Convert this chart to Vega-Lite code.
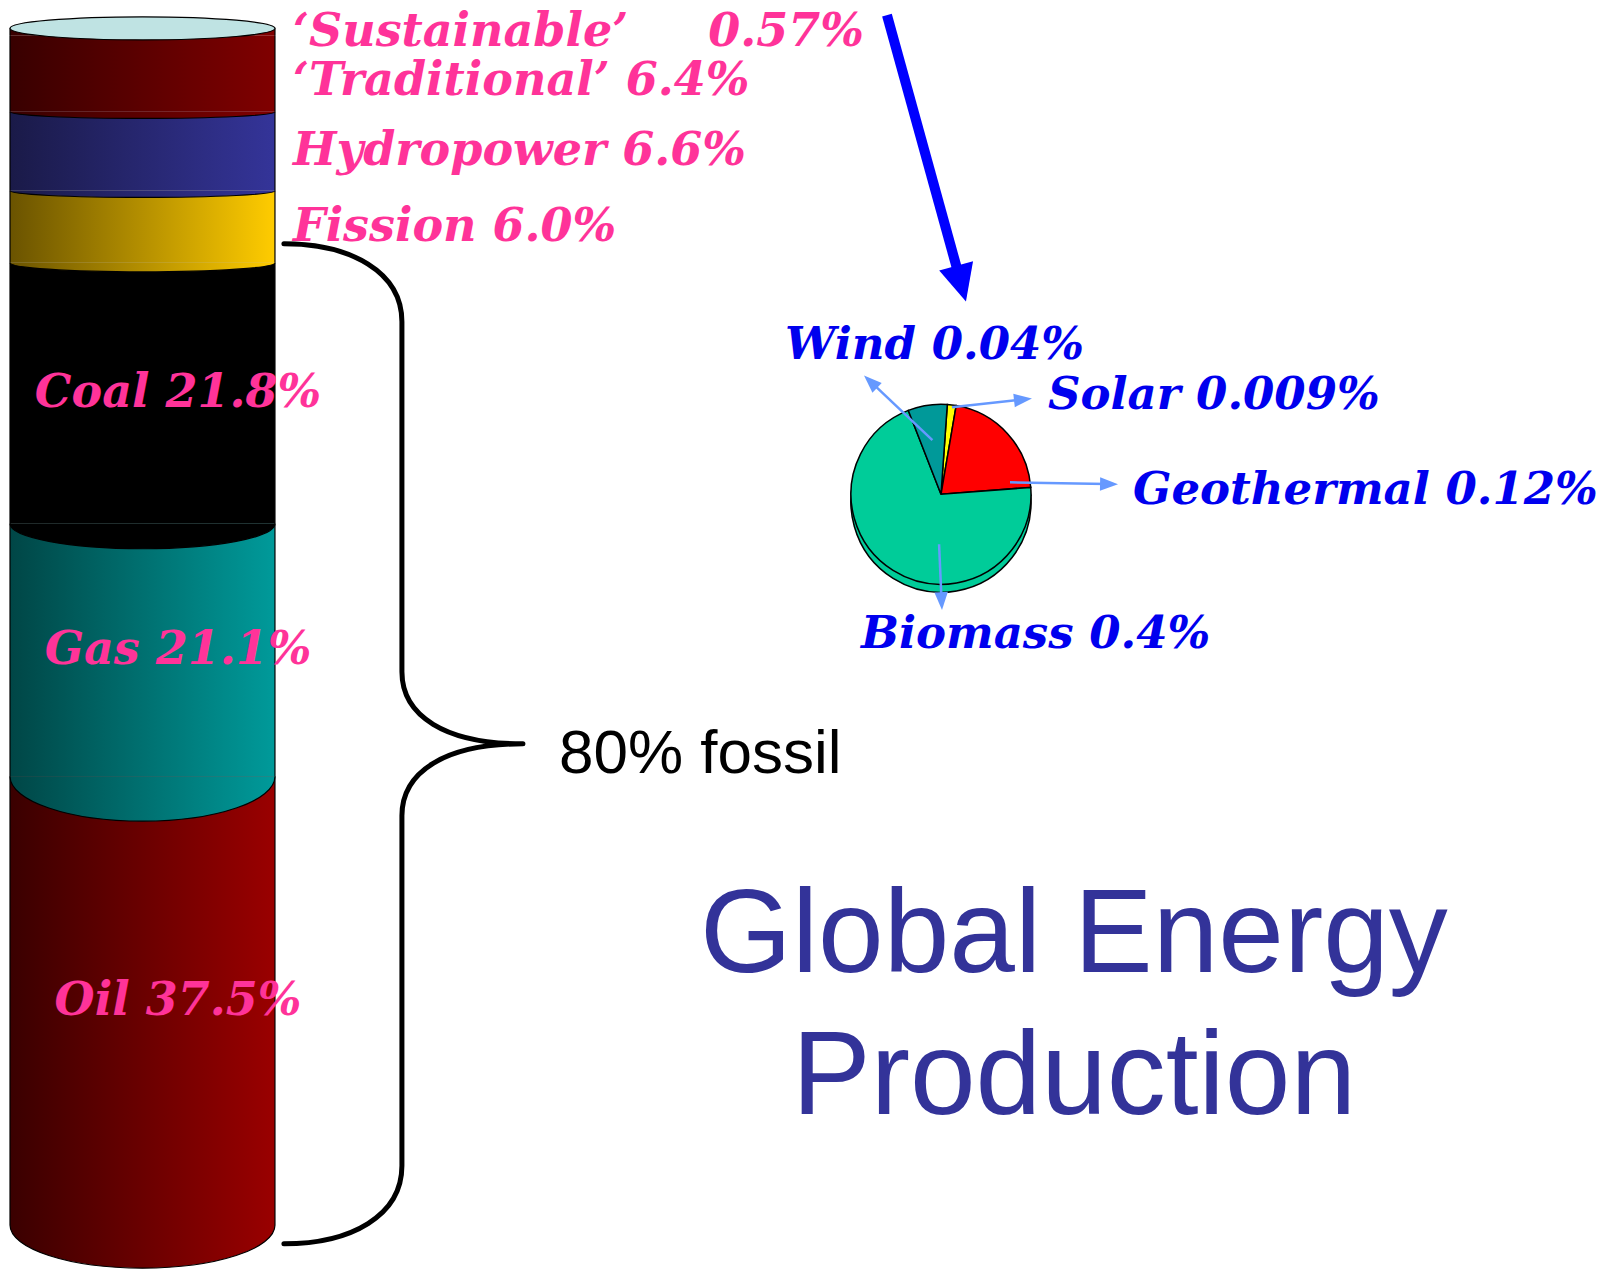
{
  "$schema": "https://vega.github.io/schema/vega-lite/v6.json",
  "width": 1608,
  "height": 1271,
  "padding": 0,
  "autosize": {"type": "fit", "contains": "padding"},
  "background": "white",
  "config": {"view": {"stroke": null}, "axis": {"disable": true}},
  "datasets": {
    "energy": [
      {"source": "Oil", "share": 37.5, "rank": 1, "label": "Oil 37.5%"},
      {"source": "Gas", "share": 21.1, "rank": 2, "label": "Gas 21.1%"},
      {"source": "Coal", "share": 21.8, "rank": 3, "label": "Coal 21.8%"},
      {"source": "Fission", "share": 6.0, "rank": 4, "label": "Fission 6.0%"},
      {"source": "Hydropower", "share": 6.6, "rank": 5, "label": "Hydropower 6.6%"},
      {"source": "Traditional", "share": 6.4, "rank": 6, "label": "‘Traditional’ 6.4%"},
      {"source": "Sustainable", "share": 0.57, "rank": 7, "label": "‘Sustainable’\u00a0\u00a0\u00a0\u00a0 0.57%"}
    ],
    "renewables": [
      {"source": "Solar", "share": 0.009, "rank": 1, "label": "Solar 0.009%"},
      {"source": "Geothermal", "share": 0.12, "rank": 2, "label": "Geothermal 0.12%"},
      {"source": "Biomass", "share": 0.4, "rank": 3, "label": "Biomass 0.4%"},
      {"source": "Wind", "share": 0.04, "rank": 4, "label": "Wind 0.04%"}
    ]
  },
  "layer": [
    {
      "data": {"name": "energy"},
      "transform": [
        {"stack": "share", "groupby": [], "sort": [{"field": "rank", "order": "ascending"}], "as": ["lo", "hi"]},
        {"filter": "datum.source === 'Oil'"}
      ],
      "mark": {"type": "rect", "strokeWidth": 0, "fill": {"gradient": "linear", "x1": 0, "y1": 0, "x2": 1, "y2": 0, "stops": [{"offset": 0, "color": "#3a0000"}, {"offset": 1, "color": "#9a0000"}]}},
      "encoding": {
        "x": {"datum": 0.622, "type": "quantitative", "scale": {"domain": [0, 100], "nice": false, "zero": false}},
        "x2": {"datum": 17.1},
        "y": {"field": "lo", "type": "quantitative", "scale": {"domain": [-3.67, 102.34], "nice": false, "zero": false}},
        "y2": {"field": "hi"}
      }
    },
    {
      "data": {"name": "energy"},
      "transform": [
        {"stack": "share", "groupby": [], "sort": [{"field": "rank", "order": "ascending"}], "as": ["lo", "hi"]},
        {"filter": "datum.source === 'Gas'"}
      ],
      "mark": {"type": "rect", "strokeWidth": 0, "fill": {"gradient": "linear", "x1": 0, "y1": 0, "x2": 1, "y2": 0, "stops": [{"offset": 0, "color": "#004646"}, {"offset": 1, "color": "#009a9a"}]}},
      "encoding": {
        "x": {"datum": 0.622, "type": "quantitative", "scale": {"domain": [0, 100], "nice": false, "zero": false}},
        "x2": {"datum": 17.1},
        "y": {"field": "lo", "type": "quantitative", "scale": {"domain": [-3.67, 102.34], "nice": false, "zero": false}},
        "y2": {"field": "hi"}
      }
    },
    {
      "data": {"name": "energy"},
      "transform": [
        {"stack": "share", "groupby": [], "sort": [{"field": "rank", "order": "ascending"}], "as": ["lo", "hi"]},
        {"filter": "datum.source === 'Coal'"}
      ],
      "mark": {"type": "rect", "strokeWidth": 0, "fill": "#000000"},
      "encoding": {
        "x": {"datum": 0.622, "type": "quantitative", "scale": {"domain": [0, 100], "nice": false, "zero": false}},
        "x2": {"datum": 17.1},
        "y": {"field": "lo", "type": "quantitative", "scale": {"domain": [-3.67, 102.34], "nice": false, "zero": false}},
        "y2": {"field": "hi"}
      }
    },
    {
      "data": {"name": "energy"},
      "transform": [
        {"stack": "share", "groupby": [], "sort": [{"field": "rank", "order": "ascending"}], "as": ["lo", "hi"]},
        {"filter": "datum.source === 'Fission'"}
      ],
      "mark": {"type": "rect", "strokeWidth": 0, "fill": {"gradient": "linear", "x1": 0, "y1": 0, "x2": 1, "y2": 0, "stops": [{"offset": 0, "color": "#6a5300"}, {"offset": 1, "color": "#ffcc00"}]}},
      "encoding": {
        "x": {"datum": 0.622, "type": "quantitative", "scale": {"domain": [0, 100], "nice": false, "zero": false}},
        "x2": {"datum": 17.1},
        "y": {"field": "lo", "type": "quantitative", "scale": {"domain": [-3.67, 102.34], "nice": false, "zero": false}},
        "y2": {"field": "hi"}
      }
    },
    {
      "data": {"name": "energy"},
      "transform": [
        {"stack": "share", "groupby": [], "sort": [{"field": "rank", "order": "ascending"}], "as": ["lo", "hi"]},
        {"filter": "datum.source === 'Hydropower'"}
      ],
      "mark": {"type": "rect", "strokeWidth": 0, "fill": {"gradient": "linear", "x1": 0, "y1": 0, "x2": 1, "y2": 0, "stops": [{"offset": 0, "color": "#1a1a48"}, {"offset": 1, "color": "#343499"}]}},
      "encoding": {
        "x": {"datum": 0.622, "type": "quantitative", "scale": {"domain": [0, 100], "nice": false, "zero": false}},
        "x2": {"datum": 17.1},
        "y": {"field": "lo", "type": "quantitative", "scale": {"domain": [-3.67, 102.34], "nice": false, "zero": false}},
        "y2": {"field": "hi"}
      }
    },
    {
      "data": {"name": "energy"},
      "transform": [
        {"stack": "share", "groupby": [], "sort": [{"field": "rank", "order": "ascending"}], "as": ["lo", "hi"]},
        {"filter": {"field": "source", "oneOf": ["Traditional", "Sustainable"]}}
      ],
      "mark": {"type": "rect", "strokeWidth": 0, "fill": {"gradient": "linear", "x1": 0, "y1": 0, "x2": 1, "y2": 0, "stops": [{"offset": 0, "color": "#380000"}, {"offset": 1, "color": "#800000"}]}},
      "encoding": {
        "x": {"datum": 0.622, "type": "quantitative", "scale": {"domain": [0, 100], "nice": false, "zero": false}},
        "x2": {"datum": 17.1},
        "y": {"field": "lo", "type": "quantitative", "scale": {"domain": [-3.67, 102.34], "nice": false, "zero": false}},
        "y2": {"field": "hi"}
      }
    },
    {
      "data": {"name": "energy"},
      "transform": [
        {"stack": "share", "groupby": [], "sort": [{"field": "rank", "order": "ascending"}], "as": ["lo", "hi"]}
      ],
      "mark": {"type": "rule", "color": "black", "strokeWidth": 1.2},
      "encoding": {
        "x": {"datum": 0.622, "type": "quantitative", "scale": {"domain": [0, 100], "nice": false, "zero": false}},
        "y": {"field": "lo", "type": "quantitative", "scale": {"domain": [-3.67, 102.34], "nice": false, "zero": false}},
        "y2": {"field": "hi"}
      }
    },
    {
      "data": {"name": "energy"},
      "transform": [
        {"stack": "share", "groupby": [], "sort": [{"field": "rank", "order": "ascending"}], "as": ["lo", "hi"]}
      ],
      "mark": {"type": "rule", "color": "black", "strokeWidth": 1.2},
      "encoding": {
        "x": {"datum": 17.1, "type": "quantitative", "scale": {"domain": [0, 100], "nice": false, "zero": false}},
        "y": {"field": "lo", "type": "quantitative", "scale": {"domain": [-3.67, 102.34], "nice": false, "zero": false}},
        "y2": {"field": "hi"}
      }
    },
    {
      "data": {"name": "energy"},
      "transform": [
        {"stack": "share", "groupby": [], "sort": [{"field": "rank", "order": "ascending"}], "as": ["lo", "hi"]},
        {"filter": "datum.source === 'Oil'"}
      ],
      "mark": {"type": "point", "filled": true, "opacity": 1, "size": 70225, "shape": "M-1,0A1,0.325,0,0,0,1,0", "stroke": "black", "strokeWidth": 1.2,
        "fill": {"gradient": "linear", "x1": 0, "y1": 0, "x2": 1, "y2": 0, "stops": [{"offset": 0, "color": "#3a0000"}, {"offset": 1, "color": "#9a0000"}]}},
      "encoding": {
        "x": {"datum": 8.862, "type": "quantitative", "scale": {"domain": [0, 100], "nice": false, "zero": false}},
        "y": {"field": "lo", "type": "quantitative", "scale": {"domain": [-3.67, 102.34], "nice": false, "zero": false}}
      }
    },
    {
      "data": {"name": "energy"},
      "transform": [
        {"stack": "share", "groupby": [], "sort": [{"field": "rank", "order": "ascending"}], "as": ["lo", "hi"]},
        {"filter": "datum.source === 'Gas'"}
      ],
      "mark": {"type": "point", "filled": true, "opacity": 1, "size": 70225, "shape": "M-1,0A1,0.34,0,0,0,1,0", "stroke": "black", "strokeWidth": 1.2,
        "fill": {"gradient": "linear", "x1": 0, "y1": 0, "x2": 1, "y2": 0, "stops": [{"offset": 0, "color": "#004646"}, {"offset": 1, "color": "#009a9a"}]}},
      "encoding": {
        "x": {"datum": 8.862, "type": "quantitative", "scale": {"domain": [0, 100], "nice": false, "zero": false}},
        "y": {"field": "lo", "type": "quantitative", "scale": {"domain": [-3.67, 102.34], "nice": false, "zero": false}}
      }
    },
    {
      "data": {"name": "energy"},
      "transform": [
        {"stack": "share", "groupby": [], "sort": [{"field": "rank", "order": "ascending"}], "as": ["lo", "hi"]},
        {"filter": "datum.source === 'Coal'"}
      ],
      "mark": {"type": "point", "filled": true, "opacity": 1, "size": 70225, "shape": "M-1,0A1,0.19,0,0,0,1,0", "stroke": "black", "strokeWidth": 1.2, "fill": "#000000"},
      "encoding": {
        "x": {"datum": 8.862, "type": "quantitative", "scale": {"domain": [0, 100], "nice": false, "zero": false}},
        "y": {"field": "lo", "type": "quantitative", "scale": {"domain": [-3.67, 102.34], "nice": false, "zero": false}}
      }
    },
    {
      "data": {"name": "energy"},
      "transform": [
        {"stack": "share", "groupby": [], "sort": [{"field": "rank", "order": "ascending"}], "as": ["lo", "hi"]},
        {"filter": "datum.source === 'Fission'"}
      ],
      "mark": {"type": "point", "filled": true, "opacity": 1, "size": 70225, "shape": "M-1,0A1,0.07,0,0,0,1,0", "stroke": "black", "strokeWidth": 1.2,
        "fill": {"gradient": "linear", "x1": 0, "y1": 0, "x2": 1, "y2": 0, "stops": [{"offset": 0, "color": "#6a5300"}, {"offset": 1, "color": "#ffcc00"}]}},
      "encoding": {
        "x": {"datum": 8.862, "type": "quantitative", "scale": {"domain": [0, 100], "nice": false, "zero": false}},
        "y": {"field": "lo", "type": "quantitative", "scale": {"domain": [-3.67, 102.34], "nice": false, "zero": false}}
      }
    },
    {
      "data": {"name": "energy"},
      "transform": [
        {"stack": "share", "groupby": [], "sort": [{"field": "rank", "order": "ascending"}], "as": ["lo", "hi"]},
        {"filter": "datum.source === 'Hydropower'"}
      ],
      "mark": {"type": "point", "filled": true, "opacity": 1, "size": 70225, "shape": "M-1,0A1,0.05,0,0,0,1,0", "stroke": "black", "strokeWidth": 1.2,
        "fill": {"gradient": "linear", "x1": 0, "y1": 0, "x2": 1, "y2": 0, "stops": [{"offset": 0, "color": "#1a1a48"}, {"offset": 1, "color": "#343499"}]}},
      "encoding": {
        "x": {"datum": 8.862, "type": "quantitative", "scale": {"domain": [0, 100], "nice": false, "zero": false}},
        "y": {"field": "lo", "type": "quantitative", "scale": {"domain": [-3.67, 102.34], "nice": false, "zero": false}}
      }
    },
    {
      "data": {"name": "energy"},
      "transform": [
        {"stack": "share", "groupby": [], "sort": [{"field": "rank", "order": "ascending"}], "as": ["lo", "hi"]},
        {"filter": "datum.source === 'Traditional'"}
      ],
      "mark": {"type": "point", "filled": true, "opacity": 1, "size": 70225, "shape": "M-1,0A1,0.05,0,0,0,1,0", "stroke": "black", "strokeWidth": 1.2,
        "fill": {"gradient": "linear", "x1": 0, "y1": 0, "x2": 1, "y2": 0, "stops": [{"offset": 0, "color": "#380000"}, {"offset": 1, "color": "#800000"}]}},
      "encoding": {
        "x": {"datum": 8.862, "type": "quantitative", "scale": {"domain": [0, 100], "nice": false, "zero": false}},
        "y": {"field": "lo", "type": "quantitative", "scale": {"domain": [-3.67, 102.34], "nice": false, "zero": false}}
      }
    },
    {
      "data": {"name": "energy"},
      "transform": [
        {"stack": "share", "groupby": [], "sort": [{"field": "rank", "order": "ascending"}], "as": ["lo", "hi"]},
        {"filter": "datum.source === 'Sustainable'"}
      ],
      "mark": {
        "type": "point", "filled": true, "opacity": 1, "size": 70225,
        "shape": "M-1,0A1,0.087,0,1,1,1,0A1,0.087,0,1,1,-1,0Z",
        "fill": "#bfe3e3", "stroke": "black", "strokeWidth": 1.2
      },
      "encoding": {
        "x": {"datum": 8.862, "type": "quantitative", "scale": {"domain": [0, 100], "nice": false, "zero": false}},
        "y": {"field": "hi", "type": "quantitative", "scale": {"domain": [-3.67, 102.34], "nice": false, "zero": false}}
      }
    },
    {
      "data": {"name": "energy"},
      "transform": [
        {"stack": "share", "groupby": [], "sort": [{"field": "rank", "order": "ascending"}], "as": ["lo", "hi"]},
        {"calculate": "(datum.lo + datum.hi) / 2", "as": "mid"},
        {"filter": {"field": "source", "oneOf": ["Oil", "Gas", "Coal"]}}
      ],
      "mark": {"type": "text", "align": "center", "baseline": "middle", "font": "DejaVu Serif", "fontStyle": "italic", "fontWeight": "bold", "fontSize": 46, "fill": "#ff3399"},
      "encoding": {
        "x": {"datum": 11.07, "type": "quantitative", "scale": {"domain": [0, 100], "nice": false, "zero": false}},
        "y": {"field": "mid", "type": "quantitative", "scale": {"domain": [-3.67, 102.34], "nice": false, "zero": false}},
        "text": {"field": "label"}
      }
    },
    {
      "data": {"name": "energy"},
      "transform": [
        {"stack": "share", "groupby": [], "sort": [{"field": "rank", "order": "ascending"}], "as": ["lo", "hi"]},
        {"calculate": "(datum.lo + datum.hi) / 2", "as": "mid"},
        {"filter": {"field": "source", "oneOf": ["Fission", "Hydropower", "Sustainable"]}}
      ],
      "mark": {"type": "text", "align": "left", "baseline": "middle", "font": "DejaVu Serif", "fontStyle": "italic", "fontWeight": "bold", "fontSize": 46, "fill": "#ff3399"},
      "encoding": {
        "x": {"datum": 18.22, "type": "quantitative", "scale": {"domain": [0, 100], "nice": false, "zero": false}},
        "y": {"field": "mid", "type": "quantitative", "scale": {"domain": [-3.67, 102.34], "nice": false, "zero": false}},
        "text": {"field": "label"}
      }
    },
    {
      "data": {"name": "energy"},
      "transform": [
        {"stack": "share", "groupby": [], "sort": [{"field": "rank", "order": "ascending"}], "as": ["lo", "hi"]},
        {"calculate": "(datum.lo + datum.hi) / 2", "as": "mid"},
        {"filter": "datum.source === 'Traditional'"}
      ],
      "mark": {"type": "text", "align": "left", "baseline": "middle", "dy": 8, "font": "DejaVu Serif", "fontStyle": "italic", "fontWeight": "bold", "fontSize": 46, "fill": "#ff3399"},
      "encoding": {
        "x": {"datum": 18.22, "type": "quantitative", "scale": {"domain": [0, 100], "nice": false, "zero": false}},
        "y": {"field": "mid", "type": "quantitative", "scale": {"domain": [-3.67, 102.34], "nice": false, "zero": false}},
        "text": {"field": "label"}
      }
    },
    {
      "data": {"name": "energy"},
      "transform": [
        {"filter": {"field": "source", "oneOf": ["Oil", "Gas", "Coal"]}},
        {"aggregate": [{"op": "sum", "field": "share", "as": "fossil"}]},
        {"calculate": "datum.fossil / 2", "as": "half"}
      ],
      "mark": {
        "type": "point", "filled": false, "opacity": 1, "size": 4,
        "shape": "M-239,-500C-172,-500,-121,-472,-121,-422L-121,-72C-121,-28,-78,0,0,0C-78,0,-121,28,-121,72L-121,422C-121,472,-172,500,-239,500",
        "stroke": "black", "strokeWidth": 5, "strokeCap": "round", "strokeJoin": "round"
      },
      "encoding": {
        "x": {"datum": 32.52, "type": "quantitative", "scale": {"domain": [0, 100], "nice": false, "zero": false}},
        "y": {"field": "half", "type": "quantitative", "scale": {"domain": [-3.67, 102.34], "nice": false, "zero": false}}
      }
    },
    {
      "data": {"name": "energy"},
      "transform": [
        {"filter": {"field": "source", "oneOf": ["Oil", "Gas", "Coal"]}},
        {"aggregate": [{"op": "sum", "field": "share", "as": "fossil"}]},
        {"calculate": "datum.fossil / 2", "as": "half"},
        {"calculate": "format(datum.fossil, '.0f') + '% fossil'", "as": "caption"}
      ],
      "mark": {"type": "text", "align": "left", "baseline": "middle", "dy": 10, "font": "Liberation Sans", "fontSize": 62, "fill": "black"},
      "encoding": {
        "x": {"datum": 34.76, "type": "quantitative", "scale": {"domain": [0, 100], "nice": false, "zero": false}},
        "y": {"field": "half", "type": "quantitative", "scale": {"domain": [-3.67, 102.34], "nice": false, "zero": false}},
        "text": {"field": "caption"}
      }
    },
    {
      "data": {"name": "energy"},
      "transform": [{"filter": "datum.source === 'Sustainable'"}],
      "mark": {"type": "rule", "color": "#0000ff", "strokeWidth": 10, "strokeCap": "butt"},
      "encoding": {
        "x": {"datum": 55.16, "type": "quantitative", "scale": {"domain": [0, 100], "nice": false, "zero": false}},
        "y": {"datum": 101.08, "type": "quantitative", "scale": {"domain": [-3.67, 102.34], "nice": false, "zero": false}},
        "x2": {"datum": 59.55},
        "y2": {"datum": 79.73}
      }
    },
    {
      "data": {"name": "energy"},
      "transform": [{"filter": "datum.source === 'Sustainable'"}],
      "mark": {"type": "point", "filled": true, "opacity": 1, "size": 1521, "shape": "M0,-1L0.9,0.9L-0.9,0.9Z", "angle": 164.6, "fill": "#0000ff", "strokeWidth": 0},
      "encoding": {
        "x": {"datum": 59.75, "type": "quantitative", "scale": {"domain": [0, 100], "nice": false, "zero": false}},
        "y": {"datum": 78.72, "type": "quantitative", "scale": {"domain": [-3.67, 102.34], "nice": false, "zero": false}}
      }
    },
    {
      "data": {"name": "renewables"},
      "mark": {"type": "arc", "radius": 90, "thetaOffset": 0.07, "fill": "#00cc99", "stroke": "black", "strokeWidth": 1.5, "yOffset": 8},
      "encoding": {
        "x": {"datum": 58.52, "type": "quantitative", "scale": {"domain": [0, 100], "nice": false, "zero": false}},
        "y": {"datum": 61.05, "type": "quantitative", "scale": {"domain": [-3.67, 102.34], "nice": false, "zero": false}},
        "theta": {"field": "share", "type": "quantitative", "stack": true},
        "order": {"field": "rank"}
      }
    },
    {
      "data": {"name": "renewables"},
      "mark": {"type": "arc", "radius": 90, "thetaOffset": 0.07, "stroke": "black", "strokeWidth": 1.5},
      "encoding": {
        "x": {"datum": 58.52, "type": "quantitative", "scale": {"domain": [0, 100], "nice": false, "zero": false}},
        "y": {"datum": 61.05, "type": "quantitative", "scale": {"domain": [-3.67, 102.34], "nice": false, "zero": false}},
        "theta": {"field": "share", "type": "quantitative", "stack": true},
        "order": {"field": "rank"},
        "color": {
          "field": "source", "type": "nominal", "legend": null,
          "scale": {"domain": ["Solar", "Geothermal", "Biomass", "Wind"], "range": ["#ffff00", "#ff0000", "#00cc99", "#009999"]}
        }
      }
    },
    {
      "data": {"name": "renewables"},
      "transform": [{"filter": "datum.source === 'Wind'"}],
      "mark": {"type": "rule", "color": "#6699ff", "strokeWidth": 2.5},
      "encoding": {
        "x": {"datum": 57.985, "type": "quantitative", "scale": {"domain": [0, 100], "nice": false, "zero": false}},
        "y": {"datum": 65.58, "type": "quantitative", "scale": {"domain": [-3.67, 102.34], "nice": false, "zero": false}},
        "x2": {"datum": 54.24},
        "y2": {"datum": 70.33}
      }
    },
    {
      "data": {"name": "renewables"},
      "transform": [{"filter": "datum.source === 'Solar'"}],
      "mark": {"type": "rule", "color": "#6699ff", "strokeWidth": 2.5},
      "encoding": {
        "x": {"datum": 59.2, "type": "quantitative", "scale": {"domain": [0, 100], "nice": false, "zero": false}},
        "y": {"datum": 68.31, "type": "quantitative", "scale": {"domain": [-3.67, 102.34], "nice": false, "zero": false}},
        "x2": {"datum": 63.48},
        "y2": {"datum": 68.95}
      }
    },
    {
      "data": {"name": "renewables"},
      "transform": [{"filter": "datum.source === 'Geothermal'"}],
      "mark": {"type": "rule", "color": "#6699ff", "strokeWidth": 2.5},
      "encoding": {
        "x": {"datum": 62.81, "type": "quantitative", "scale": {"domain": [0, 100], "nice": false, "zero": false}},
        "y": {"datum": 62.05, "type": "quantitative", "scale": {"domain": [-3.67, 102.34], "nice": false, "zero": false}},
        "x2": {"datum": 68.83},
        "y2": {"datum": 61.9}
      }
    },
    {
      "data": {"name": "renewables"},
      "transform": [{"filter": "datum.source === 'Biomass'"}],
      "mark": {"type": "rule", "color": "#6699ff", "strokeWidth": 2.5},
      "encoding": {
        "x": {"datum": 58.4, "type": "quantitative", "scale": {"domain": [0, 100], "nice": false, "zero": false}},
        "y": {"datum": 56.88, "type": "quantitative", "scale": {"domain": [-3.67, 102.34], "nice": false, "zero": false}},
        "x2": {"datum": 58.55},
        "y2": {"datum": 52.31}
      }
    },
    {
      "data": {"name": "renewables"},
      "transform": [{"filter": "datum.source === 'Wind'"}],
      "mark": {"type": "point", "filled": true, "opacity": 1, "size": 506, "shape": "M0,-1L0.6,0.6L-0.6,0.6Z", "angle": 313.4, "fill": "#6699ff", "strokeWidth": 0},
      "encoding": {
        "x": {"datum": 54.24, "type": "quantitative", "scale": {"domain": [0, 100], "nice": false, "zero": false}},
        "y": {"datum": 70.33, "type": "quantitative", "scale": {"domain": [-3.67, 102.34], "nice": false, "zero": false}}
      }
    },
    {
      "data": {"name": "renewables"},
      "transform": [{"filter": "datum.source === 'Solar'"}],
      "mark": {"type": "point", "filled": true, "opacity": 1, "size": 506, "shape": "M0,-1L0.6,0.6L-0.6,0.6Z", "angle": 83.6, "fill": "#6699ff", "strokeWidth": 0},
      "encoding": {
        "x": {"datum": 63.48, "type": "quantitative", "scale": {"domain": [0, 100], "nice": false, "zero": false}},
        "y": {"datum": 68.95, "type": "quantitative", "scale": {"domain": [-3.67, 102.34], "nice": false, "zero": false}}
      }
    },
    {
      "data": {"name": "renewables"},
      "transform": [{"filter": "datum.source === 'Geothermal'"}],
      "mark": {"type": "point", "filled": true, "opacity": 1, "size": 506, "shape": "M0,-1L0.6,0.6L-0.6,0.6Z", "angle": 91.1, "fill": "#6699ff", "strokeWidth": 0},
      "encoding": {
        "x": {"datum": 68.83, "type": "quantitative", "scale": {"domain": [0, 100], "nice": false, "zero": false}},
        "y": {"datum": 61.9, "type": "quantitative", "scale": {"domain": [-3.67, 102.34], "nice": false, "zero": false}}
      }
    },
    {
      "data": {"name": "renewables"},
      "transform": [{"filter": "datum.source === 'Biomass'"}],
      "mark": {"type": "point", "filled": true, "opacity": 1, "size": 506, "shape": "M0,-1L0.6,0.6L-0.6,0.6Z", "angle": 177.4, "fill": "#6699ff", "strokeWidth": 0},
      "encoding": {
        "x": {"datum": 58.55, "type": "quantitative", "scale": {"domain": [0, 100], "nice": false, "zero": false}},
        "y": {"datum": 52.31, "type": "quantitative", "scale": {"domain": [-3.67, 102.34], "nice": false, "zero": false}}
      }
    },
    {
      "data": {"name": "renewables"},
      "transform": [{"filter": "datum.source === 'Wind'"}],
      "mark": {"type": "text", "align": "left", "baseline": "alphabetic", "font": "DejaVu Serif", "fontStyle": "italic", "fontWeight": "bold", "fontSize": 45, "fill": "#0000ee"},
      "encoding": {
        "x": {"datum": 48.82, "type": "quantitative", "scale": {"domain": [0, 100], "nice": false, "zero": false}},
        "y": {"datum": 72.39, "type": "quantitative", "scale": {"domain": [-3.67, 102.34], "nice": false, "zero": false}},
        "text": {"field": "label"}
      }
    },
    {
      "data": {"name": "renewables"},
      "transform": [{"filter": "datum.source === 'Solar'"}],
      "mark": {"type": "text", "align": "left", "baseline": "alphabetic", "font": "DejaVu Serif", "fontStyle": "italic", "fontWeight": "bold", "fontSize": 45, "fill": "#0000ee"},
      "encoding": {
        "x": {"datum": 65.17, "type": "quantitative", "scale": {"domain": [0, 100], "nice": false, "zero": false}},
        "y": {"datum": 68.14, "type": "quantitative", "scale": {"domain": [-3.67, 102.34], "nice": false, "zero": false}},
        "text": {"field": "label"}
      }
    },
    {
      "data": {"name": "renewables"},
      "transform": [{"filter": "datum.source === 'Geothermal'"}],
      "mark": {"type": "text", "align": "left", "baseline": "alphabetic", "font": "DejaVu Serif", "fontStyle": "italic", "fontWeight": "bold", "fontSize": 45, "fill": "#0000ee"},
      "encoding": {
        "x": {"datum": 70.46, "type": "quantitative", "scale": {"domain": [0, 100], "nice": false, "zero": false}},
        "y": {"datum": 60.22, "type": "quantitative", "scale": {"domain": [-3.67, 102.34], "nice": false, "zero": false}},
        "text": {"field": "label"}
      }
    },
    {
      "data": {"name": "renewables"},
      "transform": [{"filter": "datum.source === 'Biomass'"}],
      "mark": {"type": "text", "align": "left", "baseline": "alphabetic", "font": "DejaVu Serif", "fontStyle": "italic", "fontWeight": "bold", "fontSize": 45, "fill": "#0000ee"},
      "encoding": {
        "x": {"datum": 53.54, "type": "quantitative", "scale": {"domain": [0, 100], "nice": false, "zero": false}},
        "y": {"datum": 48.21, "type": "quantitative", "scale": {"domain": [-3.67, 102.34], "nice": false, "zero": false}},
        "text": {"field": "label"}
      }
    },
    {
      "data": {"values": [{"title": "Global Energy Production"}]},
      "mark": {"type": "text", "align": "center", "baseline": "alphabetic", "font": "Liberation Sans", "fontSize": 118, "lineHeight": 142, "fill": "#333399"},
      "encoding": {
        "x": {"datum": 66.79, "type": "quantitative", "scale": {"domain": [0, 100], "nice": false, "zero": false}},
        "y": {"datum": 21.1, "type": "quantitative", "scale": {"domain": [-3.67, 102.34], "nice": false, "zero": false}},
        "text": {"value": ["Global Energy", "Production"]}
      }
    }
  ]
}
